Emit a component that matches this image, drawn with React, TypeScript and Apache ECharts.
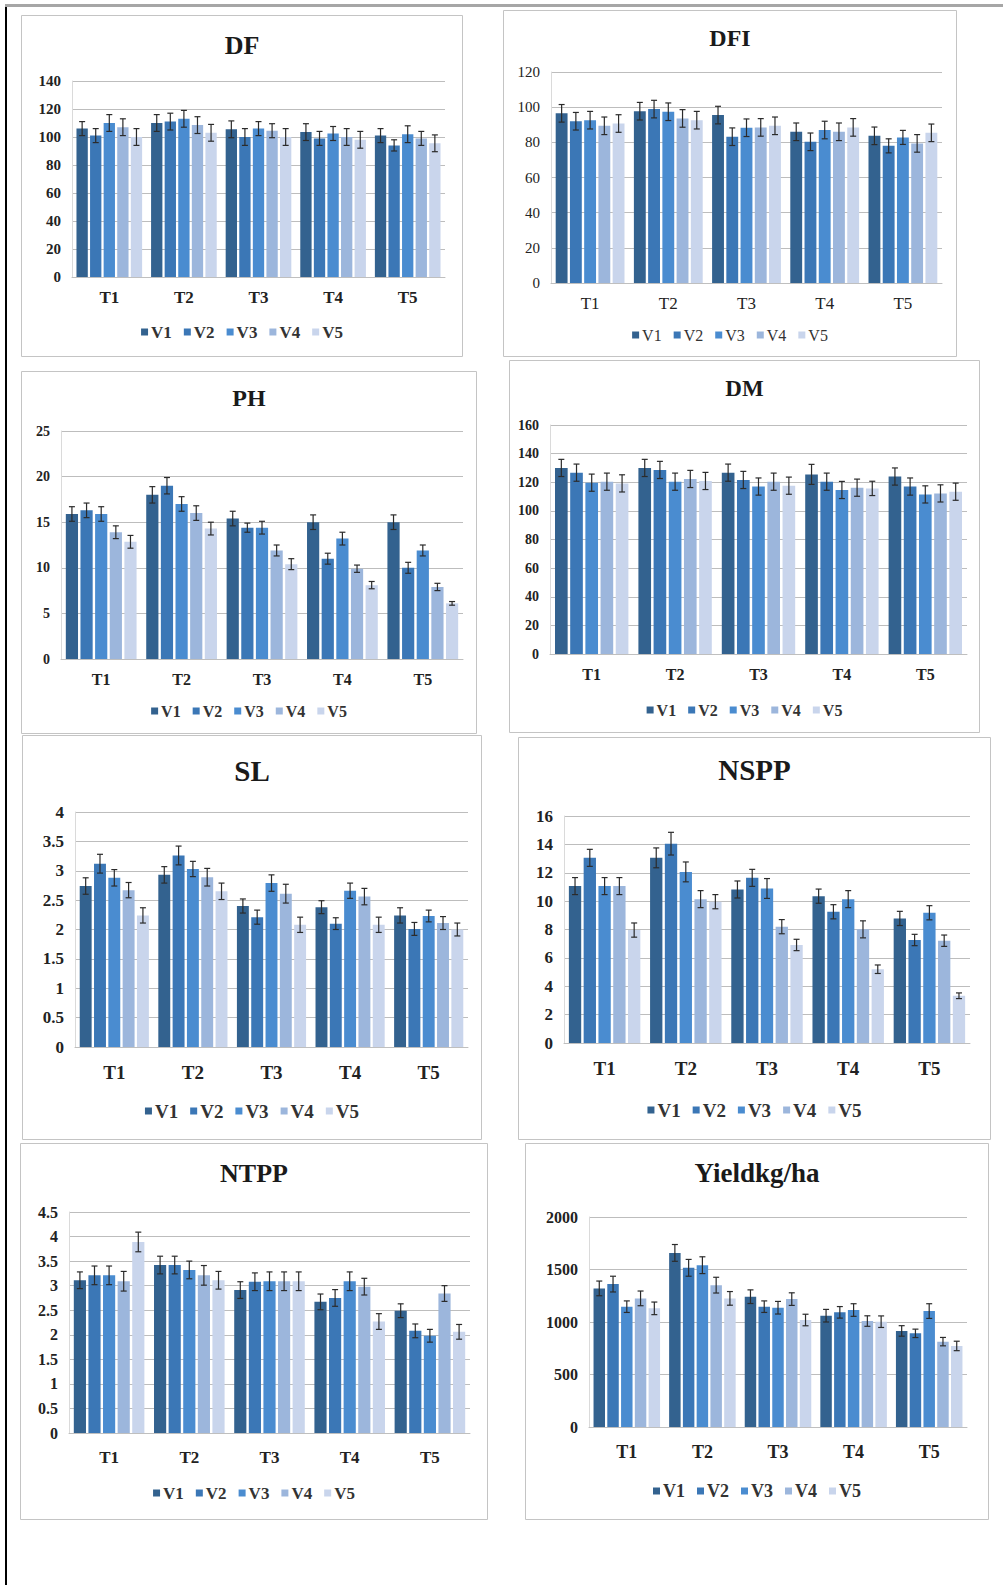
import React, { useEffect, useRef } from "react";
import * as echarts from "echarts";

const CATEGORIES = ["T1", "T2", "T3", "T4", "T5"];
const VARIETIES = ["V1", "V2", "V3", "V4", "V5"];
const COLORS = ["#33628F", "#3B77B6", "#4A8CD0", "#9CB6DC", "#C9D5EC"];

// values: one row per variety (V1..V5), columns T1..T5
const DF_VALUES = [
  [106, 110, 105.5, 103.5, 101],
  [101, 111, 100, 99, 94],
  [110, 113, 106, 102.5, 102],
  [107, 108.5, 104.5, 100, 99],
  [100, 103, 100, 98, 95.5],
];
const DF_ERR = [
  [5, 6, 6, 6, 5],
  [5, 6, 6, 5, 4],
  [6, 6, 5, 5, 6],
  [6, 6, 5, 6, 5],
  [6, 6, 6, 6, 6],
];

const DFI_VALUES = [
  [96.5, 97.7, 95.5, 86, 83.7],
  [92, 98.9, 83.2, 80.3, 78],
  [92.6, 97.4, 88.3, 87, 82.8],
  [89.4, 93.6, 88.5, 86, 79.4],
  [90.7, 92.6, 89.4, 88.5, 85.4],
];
const DFI_ERR = [
  [5, 5, 5, 5, 5],
  [5, 5, 5, 5, 4],
  [5, 5, 5, 5, 4],
  [5, 5, 5, 5, 5],
  [5, 5, 5, 5, 5],
];

const PH_VALUES = [
  [15.9, 18.0, 15.4, 15.0, 15.0],
  [16.3, 19.0, 14.4, 11.0, 10.0],
  [15.9, 17.0, 14.4, 13.2, 11.9],
  [13.9, 16.0, 11.9, 9.9, 7.9],
  [12.85, 14.3, 10.4, 8.1, 6.1],
];
const PH_ERR = [
  [0.8, 0.9, 0.8, 0.8, 0.8],
  [0.8, 0.9, 0.5, 0.6, 0.6],
  [0.8, 0.8, 0.7, 0.7, 0.6],
  [0.7, 0.8, 0.6, 0.4, 0.4],
  [0.7, 0.7, 0.6, 0.4, 0.2],
];

const DM_VALUES = [
  [130, 130, 126.7, 125.5, 124],
  [126.7, 128.6, 121.6, 120.4, 117],
  [119.7, 120.4, 117, 114.6, 111.5],
  [120.4, 122.3, 120.4, 116.2, 112.2],
  [119.2, 120.9, 117.6, 115.7, 113.4],
];
const DM_ERR = [
  [6, 6, 6, 7, 6],
  [6, 6, 6, 6, 6],
  [6, 6, 6, 6, 6],
  [6, 6, 6, 6, 6],
  [6, 6, 6, 5, 6],
];

const SL_VALUES = [
  [2.74, 2.93, 2.4, 2.38, 2.24],
  [3.12, 3.26, 2.21, 2.1, 2.01],
  [2.88, 3.03, 2.79, 2.66, 2.23],
  [2.67, 2.89, 2.61, 2.56, 2.11],
  [2.24, 2.65, 2.08, 2.08, 2.0],
];
const SL_ERR = [
  [0.14, 0.14, 0.12, 0.11, 0.13],
  [0.16, 0.16, 0.12, 0.1, 0.11],
  [0.14, 0.13, 0.14, 0.13, 0.1],
  [0.13, 0.15, 0.16, 0.14, 0.11],
  [0.13, 0.14, 0.13, 0.13, 0.11],
];

const NSPP_VALUES = [
  [11.06, 13.05, 10.82, 10.35, 8.78],
  [13.05, 14.05, 11.64, 9.25, 7.26],
  [11.06, 12.06, 10.89, 10.14, 9.18],
  [11.06, 10.14, 8.2, 8.01, 7.21],
  [7.96, 9.96, 6.91, 5.2, 3.33],
];
const NSPP_ERR = [
  [0.6, 0.7, 0.6, 0.5, 0.5],
  [0.6, 0.8, 0.6, 0.5, 0.4],
  [0.6, 0.7, 0.7, 0.6, 0.5],
  [0.6, 0.6, 0.5, 0.6, 0.4],
  [0.5, 0.5, 0.4, 0.3, 0.2],
];

const NTPP_VALUES = [
  [3.11, 3.42, 2.91, 2.67, 2.49],
  [3.21, 3.42, 3.08, 2.75, 2.08],
  [3.21, 3.32, 3.09, 3.09, 1.98],
  [3.09, 3.21, 3.09, 2.98, 2.84],
  [3.89, 3.11, 3.09, 2.27, 2.06],
];
const NTPP_ERR = [
  [0.17, 0.18, 0.17, 0.16, 0.14],
  [0.19, 0.18, 0.18, 0.17, 0.14],
  [0.19, 0.18, 0.19, 0.19, 0.13],
  [0.2, 0.2, 0.19, 0.17, 0.16],
  [0.2, 0.18, 0.19, 0.16, 0.15],
];

const YIELD_VALUES = [
  [1320, 1658, 1241, 1060, 915],
  [1361, 1516, 1146, 1092, 892],
  [1146, 1541, 1136, 1114, 1104],
  [1225, 1351, 1218, 1009, 813],
  [1130, 1225, 1019, 1003, 772],
];
const YIELD_ERR = [
  [70, 80, 65, 60, 50],
  [75, 80, 55, 55, 40],
  [55, 80, 60, 60, 70],
  [70, 75, 60, 50, 40],
  [60, 65, 55, 55, 45],
];

const FONT = "Liberation Serif, Times New Roman, serif";
const CAT_GAP = 0.12;
const BAR_GAP = 0.2;

type Panel = {
  title: string;
  values: number[][];
  errors: number[][];
  max: number;
  interval: number;
  box: number[]; // x0,y0,x1,y1
  plot: number[];
  titleY: number;
  titleSize: number;
  catY: number;
  legendY: number;
  tick: number;
  cat: number;
  leg: number;
  bold: boolean;
};

const PANELS: Panel[] = [
  { title: "DF", values: DF_VALUES, errors: DF_ERR, max: 140, interval: 20, box: [21, 15, 463, 357], plot: [72, 81, 445, 277], titleY: 45, titleSize: 26, catY: 297, legendY: 332, tick: 15, cat: 17, leg: 17, bold: true },
  { title: "DFI", values: DFI_VALUES, errors: DFI_ERR, max: 120, interval: 20, box: [503, 10, 957, 357], plot: [551, 72, 942, 283], titleY: 38, titleSize: 24, catY: 303, legendY: 335, tick: 15, cat: 17, leg: 16, bold: false },
  { title: "PH", values: PH_VALUES, errors: PH_ERR, max: 25, interval: 5, box: [21, 371, 477, 734], plot: [61, 431, 463, 659], titleY: 398, titleSize: 24, catY: 679, legendY: 711, tick: 14, cat: 16, leg: 16, bold: true },
  { title: "DM", values: DM_VALUES, errors: DM_ERR, max: 160, interval: 20, box: [509, 360, 980, 733], plot: [550, 425, 967, 654], titleY: 388, titleSize: 23, catY: 674, legendY: 710, tick: 14, cat: 16, leg: 16, bold: true },
  { title: "SL", values: SL_VALUES, errors: SL_ERR, max: 4, interval: 0.5, box: [22, 735, 482, 1140], plot: [75, 812, 468, 1047], titleY: 771, titleSize: 29, catY: 1072, legendY: 1111, tick: 17, cat: 19, leg: 19, bold: true },
  { title: "NSPP", values: NSPP_VALUES, errors: NSPP_ERR, max: 16, interval: 2, box: [518, 737, 991, 1140], plot: [564, 816, 970, 1043], titleY: 770, titleSize: 29, catY: 1068, legendY: 1110, tick: 17, cat: 19, leg: 19, bold: true },
  { title: "NTPP", values: NTPP_VALUES, errors: NTPP_ERR, max: 4.5, interval: 0.5, box: [20, 1143, 488, 1520], plot: [69, 1212, 470, 1433], titleY: 1173, titleSize: 26, catY: 1457, legendY: 1493, tick: 16, cat: 17, leg: 17, bold: true },
  { title: "Yieldkg/ha", values: YIELD_VALUES, errors: YIELD_ERR, max: 2000, interval: 500, box: [525, 1143, 989, 1520], plot: [589, 1217, 967, 1427], titleY: 1173, titleSize: 27, catY: 1452, legendY: 1491, tick: 16, cat: 18, leg: 18, bold: true },
];

function buildOption(p: Panel) {
  const [bx0, by0, bx1, by1] = p.box;
  const w = bx1 - bx0;
  const h = by1 - by0;
  const [px0, py0, px1, py1] = p.plot;
  const weight = p.bold ? "bold" : "normal";
  const n = VARIETIES.length;

  const errData: number[][] = [];
  p.values.forEach((row, si) =>
    row.forEach((v, ci) => errData.push([ci, si, v, p.errors[si][ci]]))
  );

  const series: any[] = VARIETIES.map((name, si) => ({
    name,
    type: "bar",
    data: p.values[si],
    barCategoryGap: CAT_GAP * 100 + "%",
    barGap: BAR_GAP * 100 + "%",
    itemStyle: { color: COLORS[si] },
  }));

  series.push({
    type: "custom",
    name: "err",
    data: errData,
    encode: { x: 0, y: 2 },
    z: 10,
    renderItem: (params: any, api: any) => {
      const ci = api.value(0);
      const si = api.value(1);
      const v = api.value(2);
      const e = api.value(3);
      const c = api.coord([ci, v]);
      const band = api.size([1, 0])[0];
      const usable = band * (1 - CAT_GAP);
      const bw = usable / (n + (n - 1) * BAR_GAP);
      const x = c[0] - usable / 2 + si * bw * (1 + BAR_GAP) + bw / 2;
      const yt = api.coord([ci, v + e])[1];
      const yb = api.coord([ci, v - e])[1];
      const cap = Math.max(3, bw * 0.22);
      const st = { stroke: "#2b2b2b", lineWidth: 1.2 };
      return {
        type: "group",
        children: [
          { type: "line", shape: { x1: x, y1: yt, x2: x, y2: yb }, style: st },
          { type: "line", shape: { x1: x - cap, y1: yt, x2: x + cap, y2: yt }, style: st },
          { type: "line", shape: { x1: x - cap, y1: yb, x2: x + cap, y2: yb }, style: st },
        ],
      };
    },
  });

  return {
    animation: false,
    grid: {
      left: px0 - bx0,
      top: py0 - by0,
      width: px1 - px0,
      height: py1 - py0,
      containLabel: false,
    },
    graphic: [
      {
        type: "rect",
        shape: { x: 0.5, y: 0.5, width: w - 1, height: h - 1 },
        style: { fill: "#ffffff", stroke: "#C4C4C4", lineWidth: 1 },
        z: -10,
        silent: true,
      },
      {
        type: "text",
        x: w / 2,
        y: p.titleY - by0,
        style: {
          text: p.title,
          align: "center",
          verticalAlign: "middle",
          font: `bold ${p.titleSize}px ${FONT}`,
          fill: "#1a1a1a",
        },
      },
    ],
    legend: {
      data: VARIETIES,
      left: "center",
      top: p.legendY - by0 - p.leg / 2,
      padding: 0,
      icon: "rect",
      itemWidth: 7,
      itemHeight: 7,
      itemGap: 12,
      textStyle: {
        fontFamily: FONT,
        fontSize: p.leg,
        fontWeight: weight,
        color: "#333",
        padding: [0, 0, 0, -2],
      },
    },
    xAxis: {
      type: "category",
      data: CATEGORIES,
      axisTick: { show: false },
      axisLine: { show: true, lineStyle: { color: "#BFBFBF", width: 1 } },
      axisLabel: {
        fontFamily: FONT,
        fontSize: p.cat,
        fontWeight: weight,
        color: "#222",
        margin: p.catY - py1 - p.cat / 2,
      },
    },
    yAxis: {
      type: "value",
      min: 0,
      max: p.max,
      interval: p.interval,
      axisLine: { show: true, lineStyle: { color: "#DADADA" } },
      axisTick: { show: false },
      splitLine: { lineStyle: { color: "#BDBDBD", width: 1 } },
      axisLabel: {
        fontFamily: FONT,
        fontSize: p.tick,
        fontWeight: weight,
        color: "#222",
        margin: 11,
        formatter: (val: number) => String(val),
      },
    },
    series,
  };
}

function ChartPanel({ panel }: { panel: Panel }) {
  const ref = useRef<HTMLDivElement>(null);
  useEffect(() => {
    if (!ref.current) return;
    const chart = echarts.init(ref.current, undefined, { renderer: "svg" });
    chart.setOption(buildOption(panel));
    return () => chart.dispose();
  }, [panel]);
  const [x0, y0, x1, y1] = panel.box;
  return (
    <div
      ref={ref}
      style={{
        position: "absolute",
        left: x0,
        top: y0,
        width: x1 - x0,
        height: y1 - y0,
      }}
    />
  );
}

export default function App() {
  return (
    <div
      style={{
        position: "absolute",
        left: 0,
        top: 0,
        width: 1003,
        height: 1585,
        background: "#ffffff",
        overflow: "hidden",
      }}
    >
      <div style={{ position: "absolute", left: 5, top: 4, width: 998, height: 3, background: "#A6A6A6" }} />
      <div style={{ position: "absolute", left: 5, top: 7, width: 2, height: 1578, background: "#000000" }} />
      {PANELS.map((p) => (
        <ChartPanel key={p.title} panel={p} />
      ))}
    </div>
  );
}
